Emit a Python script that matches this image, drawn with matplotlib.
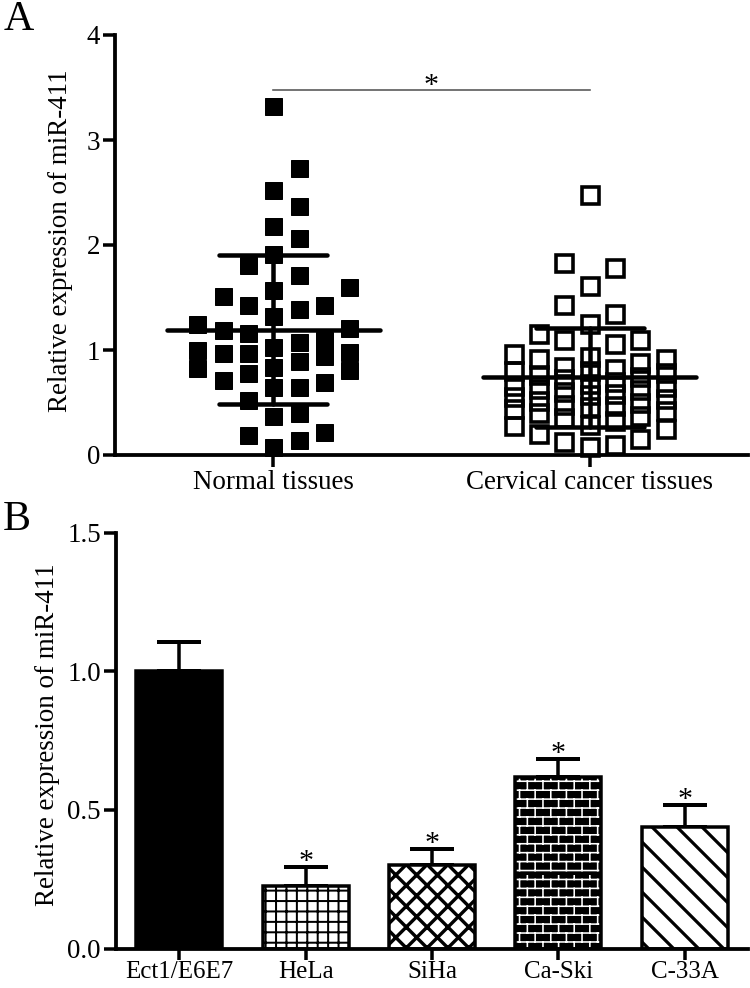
import warnings
import numpy as np
import matplotlib
matplotlib.use("Agg")
import matplotlib.pyplot as plt
from matplotlib import hatch as mhatch
from matplotlib.path import Path

warnings.filterwarnings("ignore")

DPI = 125


def px(v):
    # pixel size -> points at the output dpi
    return v * 72.0 / DPI


# ---- panel A data ----
groups = ["Normal tissues", "Cervical cancer tissues"]
normal = [3.32, 2.73, 2.52, 2.37, 2.18, 2.07, 1.91, 1.81, 1.71, 1.60, 1.57,
          1.51, 1.43, 1.43, 1.39, 1.32, 1.25, 1.21, 1.19, 1.16, 1.10, 1.08,
          1.03, 1.00, 0.98, 0.97, 0.97, 0.94, 0.90, 0.84, 0.83, 0.81, 0.78,
          0.71, 0.70, 0.65, 0.65, 0.52, 0.40, 0.37, 0.22, 0.19, 0.14, 0.08]
cancer = [2.48, 1.83, 1.78, 1.61, 1.43, 1.34, 1.25, 1.15, 1.10, 1.10, 1.06,
          0.96, 0.93, 0.91, 0.91, 0.88, 0.84, 0.82, 0.80, 0.80, 0.78, 0.76,
          0.74, 0.72, 0.70, 0.68, 0.66, 0.65, 0.63, 0.62, 0.60, 0.58, 0.57,
          0.55, 0.53, 0.51, 0.50, 0.48, 0.47, 0.46, 0.44, 0.42, 0.40, 0.37,
          0.35, 0.32, 0.29, 0.28, 0.25, 0.20, 0.15, 0.12, 0.10, 0.08]
sig_y = 3.48

# ---- panel B data ----
cells = ["Ect1/E6E7", "HeLa", "SiHa", "Ca-Ski", "C-33A"]
cell_mean = [1.00, 0.225, 0.30, 0.618, 0.439]
cell_err = [0.104, 0.068, 0.059, 0.065, 0.077]
cell_sig = [False, True, True, True, True]


# custom hatches: 'b' = brick wall, 'w' = wide diagonal
class BrickHatch(mhatch.HatchPatternBase):
    rows, cols = 14, 8

    def __init__(self, hatch, density):
        on = hatch.count("b") > 0
        self.num_vertices = (self.rows + self.rows * self.cols) * 2 if on else 0

    def set_vertices_and_codes(self, vertices, codes):
        r, c = self.rows, self.cols
        k = 0
        for j in range(r):
            y = (j + 0.5) / r
            vertices[k] = (0.0, y)
            vertices[k + 1] = (1.0, y)
            k += 2
        for j in range(r):
            y0 = (j + 0.5) / r
            shift = 0.5 / c if j % 2 else 0.0
            for i in range(c):
                x = i / c + shift + 0.25 / c
                vertices[k] = (x, y0)
                vertices[k + 1] = (x, y0 + 1.0 / r)
                k += 2
        codes[0::2] = Path.MOVETO
        codes[1::2] = Path.LINETO


class WideDiagHatch(mhatch.HatchPatternBase):
    n = 5

    def __init__(self, hatch, density):
        on = hatch.count("w") > 0
        self.num_vertices = (2 * self.n + 1) * 2 if on else 0

    def set_vertices_and_codes(self, vertices, codes):
        cs = np.arange(2 * self.n + 1) / self.n
        vertices[0::2, 0] = cs - 1.0
        vertices[0::2, 1] = 1.0
        vertices[1::2, 0] = cs
        vertices[1::2, 1] = 0.0
        codes[0::2] = Path.MOVETO
        codes[1::2] = Path.LINETO


mhatch._hatch_types.append(BrickHatch)
mhatch._hatch_types.append(WideDiagHatch)


def swarm(vals, min_dy, step, max_col=3):
    # greedy column layout, bottom up; crowded rows overlap like GraphPad does
    vals = np.asarray(vals)
    offs = np.zeros(len(vals))
    placed = []
    cands = [0]
    for n in range(1, max_col + 1):
        cands += [n, -n]
    for i in np.argsort(vals):
        y = vals[i]
        best, best_d = 0, -1
        for c in cands:
            ds = [abs(y - py) for pc, py in placed if pc == c]
            d = min(ds) if ds else 99
            if d >= min_dy:
                best = c
                break
            if d > best_d:
                best, best_d = c, d
        placed.append((best, y))
        offs[i] = best * step
    return offs


plt.rcParams["font.family"] = ["Liberation Serif", "DejaVu Serif"]
plt.rcParams["hatch.linewidth"] = px(2)

fig = plt.figure(figsize=(750 / DPI, 988 / DPI), dpi=DPI)
axA = fig.add_axes([115 / 750, 1 - 455 / 988, 633 / 750, 420 / 988])
axB = fig.add_axes([116 / 750, 1 - 948.5 / 988, 632 / 750, 416 / 988])

FS = px(27)

# ---- panel A ----
for i, (vals, filled) in enumerate([(normal, True), (cancer, False)]):
    vals = np.asarray(vals)
    offs = swarm(vals, 0.25, 0.08)
    axA.plot(i + offs, vals, ls="none", marker="s", ms=px(17),
             mfc="black" if filled else "none", mec="black",
             mew=px(1) if filled else px(3.6), clip_on=False, zorder=3)
    m = vals.mean()
    sd = vals.std(ddof=1)
    kw = dict(color="black", lw=px(4.5), solid_capstyle="round", zorder=4)
    axA.plot([i - 0.336, i + 0.336], [m, m], **kw)
    axA.plot([i - 0.17, i + 0.17], [m + sd, m + sd], **kw)
    axA.plot([i - 0.17, i + 0.17], [m - sd, m - sd], **kw)
    axA.plot([i, i], [m - sd, m + sd], **kw)

axA.plot([0, 1], [sig_y, sig_y], color="#555555", lw=px(1.6))
axA.annotate("*", xy=(0.5, sig_y), xytext=(0, px(-3)), textcoords="offset points",
             ha="center", va="baseline", fontsize=px(30))

axA.set_xlim(-0.5, 1.5)
axA.set_ylim(0, 4)
axA.set_yticks([0, 1, 2, 3, 4])
axA.set_xticks([0, 1])
axA.set_xticklabels(groups)
axA.set_ylabel("Relative expression of miR-411", fontsize=FS)
axA.yaxis.set_label_coords(-0.067, 0.51)

# ---- panel B ----
x = np.arange(len(cells))
bw = 0.68
bar_styles = [
    dict(fc="black", hatch=None, hlw=2),
    dict(fc="white", hatch="++", hlw=2),
    dict(fc="white", hatch="xx", hlw=3.4),
    None,
    dict(fc="white", hatch="w", hlw=3.2),
]
for i, st in enumerate(bar_styles):
    if st is None:
        # brick wall: black bar with white hatch, outlined on top
        with plt.rc_context({"hatch.linewidth": px(1.6)}):
            b = axB.bar(x[i], cell_mean[i], bw, color="black", edgecolor="white",
                        linewidth=0, hatch="b", zorder=2)[0]
        if hasattr(b, "set_hatch_linewidth"):
            b.set_hatch_linewidth(px(1.6))
        axB.bar(x[i], cell_mean[i], bw, color="none", edgecolor="black",
                linewidth=px(3.5), zorder=2)
    else:
        with plt.rc_context({"hatch.linewidth": px(st["hlw"])}):
            b = axB.bar(x[i], cell_mean[i], bw, color=st["fc"], edgecolor="black",
                        linewidth=px(3.5), hatch=st["hatch"], zorder=2)[0]
        if hasattr(b, "set_hatch_linewidth"):
            b.set_hatch_linewidth(px(st["hlw"]))

axB.errorbar(x, cell_mean, yerr=[np.zeros(len(x)), cell_err], fmt="none",
             ecolor="black", elinewidth=px(3.5), capsize=px(22), capthick=px(4),
             zorder=1)
for i in range(len(x)):
    if cell_sig[i]:
        axB.annotate("*", xy=(x[i], cell_mean[i] + cell_err[i]), xytext=(0, px(-2)),
                     textcoords="offset points", ha="center", va="baseline",
                     fontsize=px(30))

axB.set_xlim(-0.5, 4.5)
axB.set_ylim(0, 1.5)
axB.set_yticks([0, 0.5, 1.0, 1.5])
axB.set_yticklabels(["0.0", "0.5", "1.0", "1.5"])
axB.set_xticks(x)
axB.set_xticklabels(cells)
axB.set_ylabel("Relative expression of miR-411", fontsize=FS)
axB.yaxis.set_label_coords(-0.088, 0.514)

for ax in (axA, axB):
    ax.spines["top"].set_visible(False)
    ax.spines["right"].set_visible(False)
    ax.spines["left"].set_linewidth(px(3.8))
    ax.spines["bottom"].set_linewidth(px(3.8))
    ax.tick_params(direction="out", length=px(12), width=px(3.5),
                   labelsize=FS, pad=px(3))

# bottom labels of panel B sit right at the figure edge
axB.tick_params(axis="x", length=px(11), labelsize=px(25), pad=px(1))

fig.text(4 / 750, 1 - 30 / 988, "A", fontsize=px(42), ha="left", va="baseline")
fig.text(3 / 750, 1 - 530 / 988, "B", fontsize=px(42), ha="left", va="baseline")

fig.savefig("out.png", dpi=DPI)
